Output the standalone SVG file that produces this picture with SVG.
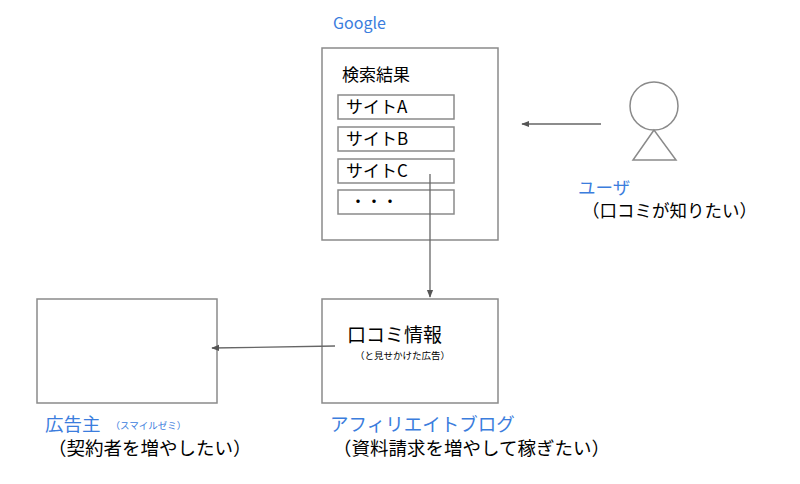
<svg xmlns="http://www.w3.org/2000/svg" width="800" height="484" viewBox="0 0 800 484">
<defs>
<style>
.box{fill:#fff;stroke:#8a8a8a;stroke-width:1.5}
.t{font-family:"Noto Sans CJK JP","Liberation Sans",sans-serif;fill:#000}
.b{font-family:"Noto Sans CJK JP","Liberation Sans",sans-serif;fill:#3b7ddd}
.ln{stroke:#666;stroke-width:1.3;fill:none}
</style>
<marker id="ah" viewBox="0 0 10 10" refX="9" refY="5" markerWidth="6" markerHeight="6" orient="auto"><path d="M0,1 L10,5 L0,9z" fill="#555"/></marker>
</defs>
<rect width="800" height="484" fill="#fff"/>
<g id="google">
<text class="b" x="333" y="29" font-size="16" font-family="Liberation Sans">Google</text>
<rect class="box" x="322" y="48" width="176" height="192"/>
<text class="t" x="342" y="81" font-size="17">検索結果</text>
<rect class="box" x="338" y="95" width="116" height="24"/>
<text class="t" x="346" y="113" font-size="17">サイトA</text>
<rect class="box" x="338" y="127" width="116" height="24"/>
<text class="t" x="346" y="145" font-size="17">サイトB</text>
<rect class="box" x="338" y="159" width="116" height="24"/>
<text class="t" x="346" y="177" font-size="17">サイトC</text>
<rect class="box" x="338" y="190" width="116" height="24"/>
<text class="t" x="350" y="207" font-size="16">・・・</text>
</g>
<g id="user">
<circle class="box" cx="654" cy="106" r="24"/>
<path class="box" d="M654,130 L633,160 L676,160 Z"/>
<text class="b" x="578" y="194" font-size="17.5">ユーザ</text>
<text class="t" x="582" y="217" font-size="17.5">（口コミが知りたい）</text>
</g>
<g id="blog">
<rect class="box" x="322" y="299" width="176" height="104"/>
<text class="t" x="347" y="342" font-size="19">口コミ情報</text>
<text class="t" x="355" y="359" font-size="9.5">（と見せかけた広告）</text>
<text class="b" x="330" y="431" font-size="18.5">アフィリエイトブログ</text>
<text class="t" x="333" y="455" font-size="18.5">（資料請求を増やして稼ぎたい）</text>
</g>
<g id="advertiser">
<rect class="box" x="37" y="299" width="180" height="104"/>
<text class="b" x="45" y="431" font-size="18.5">広告主<tspan font-size="9.5" dx="10" dy="-2">（スマイルゼミ）</tspan></text>
<text class="t" x="48" y="455" font-size="18.5">（契約者を増やしたい）</text>
</g>
<g id="connectors">
<line class="ln" x1="601" y1="124" x2="522" y2="124" marker-end="url(#ah)"/>
<line class="ln" x1="430" y1="174" x2="430" y2="297" marker-end="url(#ah)"/>
<line class="ln" x1="335" y1="346" x2="212" y2="348" marker-end="url(#ah)"/>
</g>
</svg>
